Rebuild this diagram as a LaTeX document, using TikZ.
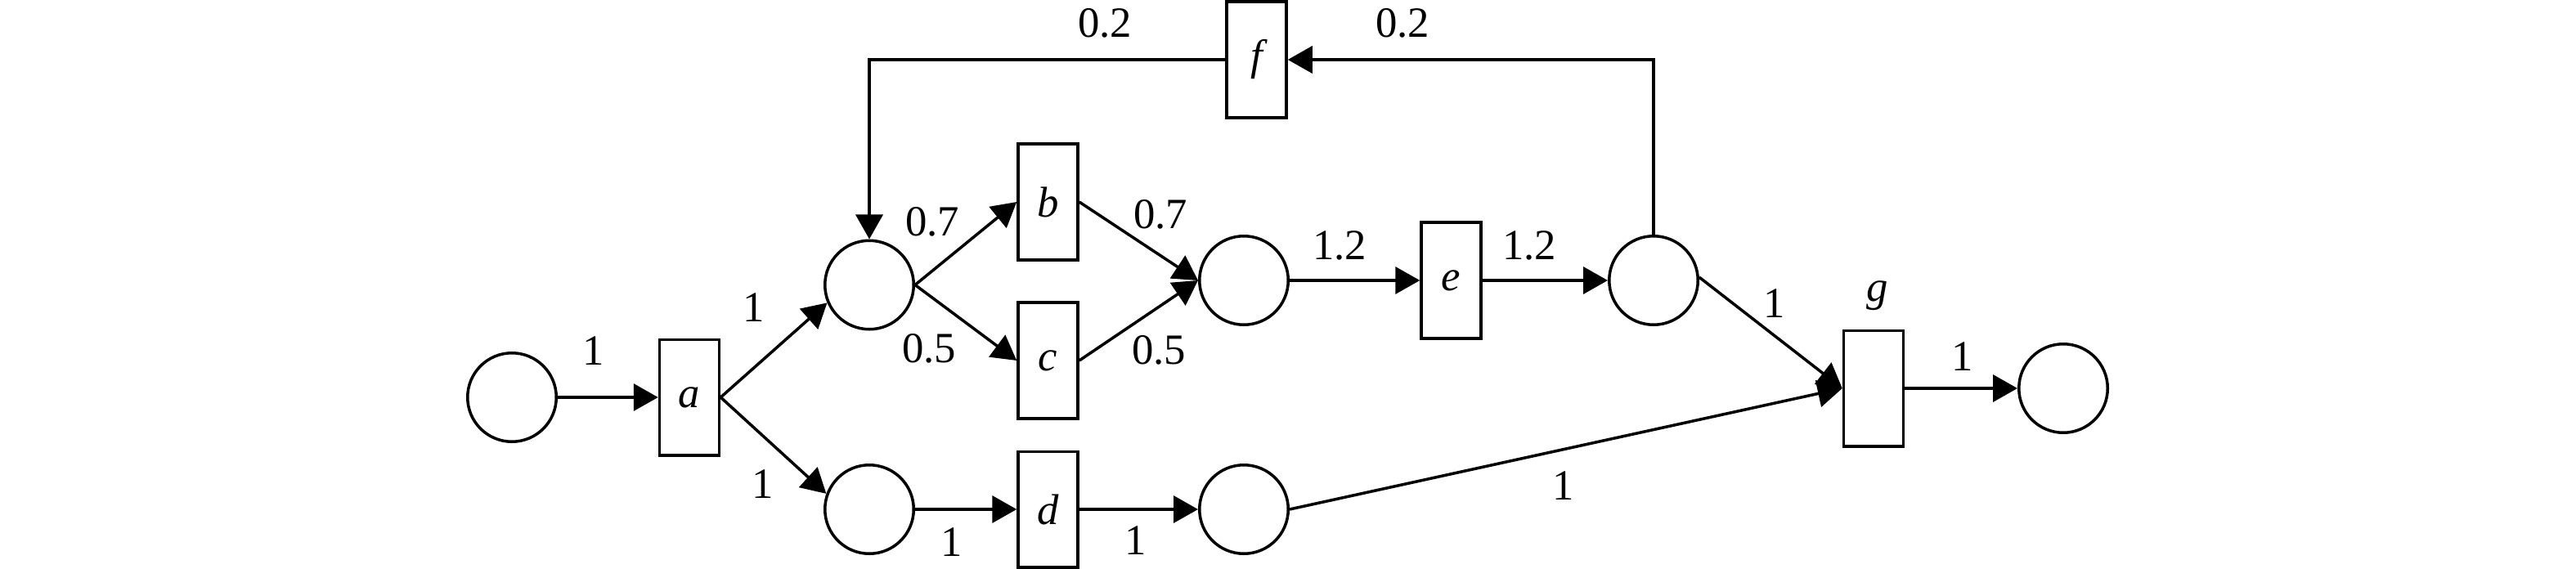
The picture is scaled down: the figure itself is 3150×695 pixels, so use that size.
\documentclass[tikz,border=0pt]{standalone}
\usepackage{fontspec}
\setmainfont{Liberation Serif}
\usetikzlibrary{arrows.meta}
\begin{document}
\begin{tikzpicture}[x=0.1mm,y=-0.1mm, line width=1pt,
  place/.style={circle,draw,minimum size=10.85mm,inner sep=0pt},
  trans/.style={rectangle,draw,minimum width=7.3mm,minimum height=14.15mm,inner sep=0pt,font=\fontsize{15}{18}\selectfont\itshape},
  arc/.style={-{Triangle[length=3mm,width=3.3mm]}},
  lbl/.style={inner sep=0pt,font=\fontsize{15}{18}\selectfont}]
\useasboundingbox (0,0) rectangle (3150,695);
% places
\node[place] (p1) at (626,486) {};
\node[place] (p2) at (1063,348.5) {};
\node[place] (p3) at (1063,623) {};
\node[place] (p4) at (1521,343) {};
\node[place] (p5) at (1521,623) {};
\node[place] (p6) at (2022,343) {};
\node[place] (p7) at (2523,475) {};
% transitions
\node[trans] (a) at (843,486) {a};
\node[trans] (b) at (1281.5,247) {b};
\node[trans] (c) at (1281.5,441) {c};
\node[trans] (d) at (1281.5,623) {d};
\node[trans] (e) at (1774.5,343) {e};
\node[trans] (f) at (1536.5,73) {f};
\node[trans] (g) at (2291,475) {};
\node[lbl,font=\fontsize{15}{18}\selectfont\itshape] (glbl) at (2296,362) {g};
% arcs
\draw[arc] (p1) -- (a);
\draw[arc] (a.east) -- (p2.203);
\draw[arc] (a.east) -- (p3.160);
\draw[arc] (p2.east) -- (b.west);
\draw[arc] (p2.east) -- (c.west);
\draw[arc] (b.east) -- (p4.west);
\draw[arc] (c.east) -- (p4.west);
\draw[arc] (p3) -- (d);
\draw[arc] (d) -- (p5);
\draw[arc] (p4) -- (e);
\draw[arc] (e) -- (p6);
\draw[arc] (p6.north) |- (f.east);
\draw[arc] (f.west) -| (p2.north);
\draw[arc] (p6.4) -- (g.west);
\draw[arc] (p5.east) -- (g.west);
\draw[arc] (g) -- (p7);
% weights
\node[lbl] (w1) at (726,429) {1};
\node[lbl] (w2) at (922,376) {1};
\node[lbl] (w3) at (933,592) {1};
\node[lbl] (w4) at (1140,271) {0.7};
\node[lbl] (w5) at (1136,426) {0.5};
\node[lbl] (w6) at (1419,262) {0.7};
\node[lbl] (w7) at (1417,428) {0.5};
\node[lbl] (w8) at (1164,663) {1};
\node[lbl] (w9) at (1389,661) {1};
\node[lbl] (w10) at (1638,300) {1.2};
\node[lbl] (w11) at (1870,300) {1.2};
\node[lbl] (w12) at (1351,28) {0.2};
\node[lbl] (w13) at (1715,28) {0.2};
\node[lbl] (w14) at (2170,371) {1};
\node[lbl] (w15) at (1912,594) {1};
\node[lbl] (w16) at (2400,436) {1};
\end{tikzpicture}
\end{document}
